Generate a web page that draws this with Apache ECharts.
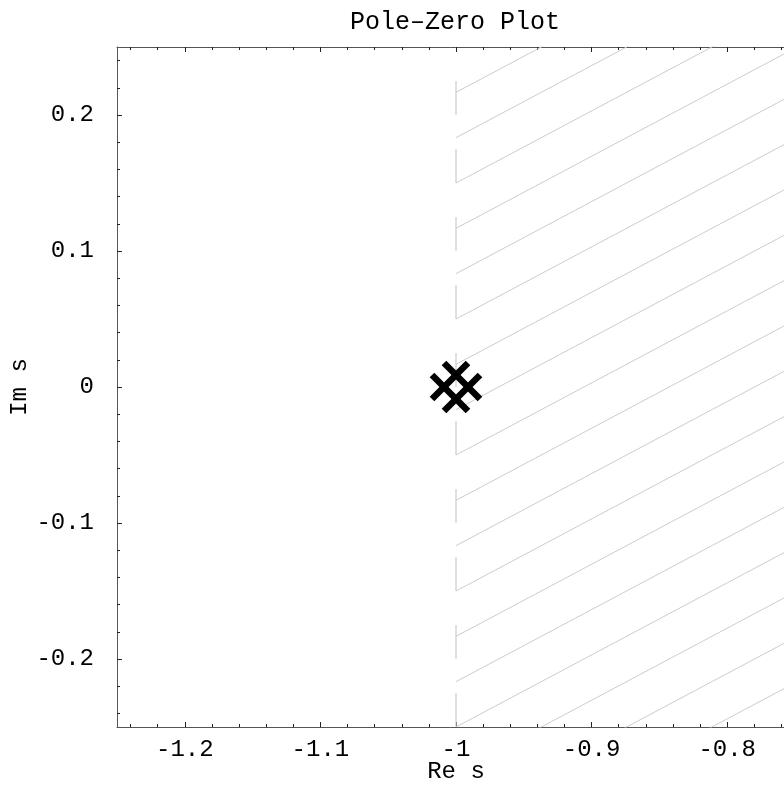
<!DOCTYPE html>
<html>
<head>
<meta charset="utf-8">
<script src="https://cdn.jsdelivr.net/npm/echarts@6/dist/echarts.min.js"></script>
<style>
  html, body { margin: 0; padding: 0; background: #fff; overflow: hidden; }
  #main { width: 784px; height: 788px; }
</style>
</head>
<body>
<div id="main"></div>
<script>
// axis ranges and tick labels
var xRange = [-1.25, -0.75];
var yRange = [-0.25, 0.25];
var xMajor = [-1.2, -1.1, -1, -0.9, -0.8];
var yMajor = [-0.2, -0.1, 0, 0.1, 0.2];
var minorStep = 0.02;

// the pole (drawn as the double cross)
var poles = [[-1, 0]];

// stability boundary and its hatching
var boundaryX = -1;
var hatchSlope = 0.53;
var hatchSpacing = 1 / 30;
var hatchIndex = [-3, -2, -1, 0, 1, 2, 3, 4, 5, 6, 7, 8, 9, 10, 11, 12, 13, 14];

var FONT = 'Liberation Mono';
var GRAY = '#cccccc';
var FS = 24;

function minors(range) {
    var out = [];
    var n0 = Math.ceil(range[0] / minorStep + 1e-9);
    var n1 = Math.floor(range[1] / minorStep - 1e-9);
    for (var i = n0; i <= n1; i++) {
        var v = +(i * minorStep).toFixed(4);
        if (Math.abs(v * 10 - Math.round(v * 10)) > 1e-6) out.push(v);
    }
    return out;
}

function xAxisDef(pos, ticks, len, showLine, showLabel) {
    return {
        type: 'value', position: pos, min: xRange[0], max: xRange[1],
        axisLine: { show: showLine, onZero: false, lineStyle: { color: '#555', width: 1 } },
        axisTick: { show: true, inside: true, length: len, customValues: ticks, lineStyle: { color: '#222', width: 1 } },
        axisLabel: { show: showLabel, customValues: ticks, margin: 11, fontFamily: FONT, fontSize: FS, color: '#000' },
        splitLine: { show: false }
    };
}

function yAxisDef(pos, ticks, len, showLine, showLabel) {
    return {
        type: 'value', position: pos, min: yRange[0], max: yRange[1],
        axisLine: { show: showLine, onZero: false, lineStyle: { color: '#555', width: 1 } },
        axisTick: { show: true, inside: true, length: len, customValues: ticks, lineStyle: { color: '#222', width: 1 } },
        axisLabel: { show: showLabel, customValues: ticks, margin: 23, fontFamily: FONT, fontSize: FS, color: '#000' },
        splitLine: { show: false }
    };
}

var xAxes = [
    xAxisDef('bottom', xMajor, 5, true, true),
    xAxisDef('bottom', minors(xRange), 3, false, false),
    xAxisDef('top', xMajor, 5, true, false),
    xAxisDef('top', minors(xRange), 3, false, false)
];
xAxes[0].name = 'Re s';
xAxes[0].nameLocation = 'middle';
xAxes[0].nameGap = 33;
xAxes[0].nameMoveOverlap = false;
xAxes[0].nameTextStyle = { fontFamily: FONT, fontSize: FS, color: '#000' };

var yAxes = [
    yAxisDef('left', yMajor, 5, true, true),
    yAxisDef('left', minors(yRange), 3, false, false)
];
yAxes[0].name = 'Im s';
yAxes[0].nameLocation = 'middle';
yAxes[0].nameRotate = 90;
yAxes[0].nameGap = 85;
yAxes[0].nameMoveOverlap = false;
yAxes[0].nameTextStyle = { fontFamily: FONT, fontSize: FS, color: '#000' };

var series = [];

// hatching right of the boundary
hatchIndex.forEach(function (k) {
    var y0 = yRange[0] + k * hatchSpacing;
    var y1 = y0 + hatchSlope * (xRange[1] - boundaryX);
    series.push({
        type: 'line', silent: true, clip: true, symbol: 'none', animation: false,
        lineStyle: { color: GRAY, width: 1 },
        data: [[boundaryX, y0], [xRange[1], y1]]
    });
});

// dashed boundary line
series.push({
    type: 'line', silent: true, clip: true, symbol: 'none', animation: false,
    lineStyle: { color: GRAY, width: 1.2, type: [34, 34] },
    data: [[boundaryX, yRange[0]], [boundaryX, yRange[1]]]
});

// pole marker
var crossSegs = [
    [-12, -24, 24, 12], [-24, -12, 12, 24],
    [12, -24, -24, 12], [24, -12, -12, 24]
];
series.push({
    type: 'custom', silent: true, animation: false, z: 10,
    renderItem: function (params, api) {
        var c = api.coord([api.value(0), api.value(1)]);
        return {
            type: 'group',
            children: crossSegs.map(function (s) {
                return {
                    type: 'line',
                    shape: { x1: c[0] + s[0], y1: c[1] + s[1], x2: c[0] + s[2], y2: c[1] + s[3] },
                    style: { stroke: '#000', lineWidth: 6.5, lineCap: 'butt' }
                };
            })
        };
    },
    data: poles
});

var chart = echarts.init(document.getElementById('main'));
chart.setOption({
    animation: false,
    backgroundColor: '#fff',
    title: {
        text: 'Pole\u2013Zero Plot', left: 450, top: 5, textAlign: 'center',
        textStyle: { fontFamily: FONT, fontSize: 25, fontWeight: 'normal', color: '#000' }
    },
    grid: { left: 117, top: 47, width: 678, height: 680, containLabel: false, outerBoundsMode: 'none' },
    xAxis: xAxes,
    yAxis: yAxes,
    series: series
});
</script>
</body>
</html>
